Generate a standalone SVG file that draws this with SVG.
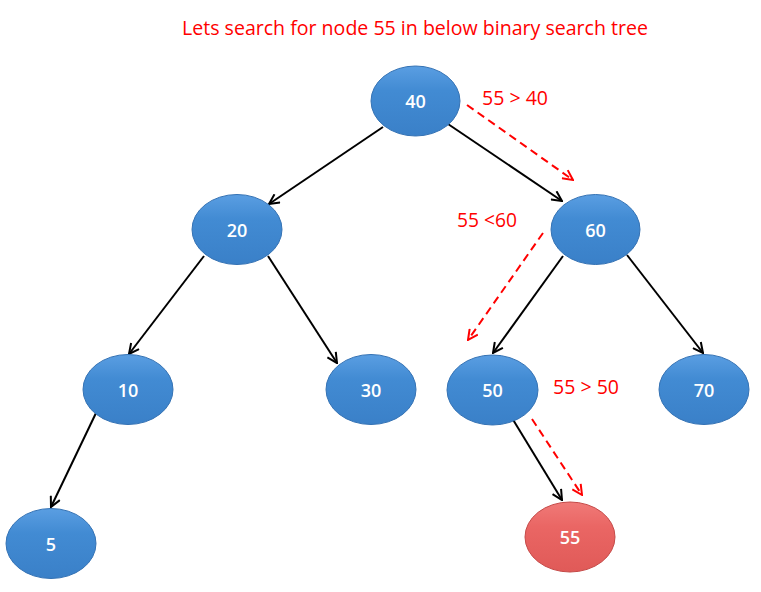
<svg xmlns="http://www.w3.org/2000/svg" width="761" height="592" viewBox="0 0 761 592">
<defs>
<linearGradient id="gb" x1="0" y1="0" x2="0" y2="1">
<stop offset="0" stop-color="#5a9ee2"/>
<stop offset="0.35" stop-color="#428bd3"/>
<stop offset="1" stop-color="#3a80c8"/>
</linearGradient>
<linearGradient id="gr" x1="0" y1="0" x2="0" y2="1">
<stop offset="0" stop-color="#f07a78"/>
<stop offset="0.35" stop-color="#ea6664"/>
<stop offset="1" stop-color="#e05a58"/>
</linearGradient>
<marker id="ab" viewBox="0 0 12 12" refX="11" refY="6" markerWidth="12" markerHeight="12" markerUnits="userSpaceOnUse" orient="auto">
<path d="M1,1 L11,6 L1,11" fill="none" stroke="#000" stroke-width="2"/>
</marker>
<marker id="ar" viewBox="0 0 12 12" refX="11" refY="6" markerWidth="12" markerHeight="12" markerUnits="userSpaceOnUse" orient="auto">
<path d="M1,1 L11,6 L1,11" fill="none" stroke="#ff0000" stroke-width="2"/>
</marker>
</defs>
<style>
.nb{fill:url(#gb);stroke:#3472b4;stroke-width:1}
.nr{fill:url(#gr);stroke:#c54a48;stroke-width:1}
.nt{font-family:"Open Sans",Lato,"Liberation Sans",sans-serif;font-size:18px;font-weight:600;fill:#fff;text-anchor:middle}
.lbl{font-family:"Open Sans",Lato,"Liberation Sans",sans-serif;font-size:20px;fill:#ff0000}
.e{stroke:#000;stroke-width:2;fill:none;marker-end:url(#ab)}
.s{stroke:#ff0000;stroke-width:2;fill:none;stroke-dasharray:8 5;marker-end:url(#ar)}
</style>
<rect width="761" height="592" fill="#fff"/>
<text class="lbl" x="182" y="35" textLength="466" lengthAdjust="spacingAndGlyphs">Lets search for node 55 in below binary search tree</text>
<g id="connectors">
<line class="e" x1="383" y1="127" x2="269" y2="204"/>
<line class="e" x1="448" y1="124" x2="562" y2="201"/>
<line class="e" x1="204" y1="256" x2="129" y2="354"/>
<line class="e" x1="268" y1="256" x2="337" y2="363"/>
<line class="e" x1="96" y1="413" x2="51" y2="507"/>
<line class="e" x1="563" y1="256" x2="493" y2="353"/>
<line class="e" x1="627" y1="255" x2="703" y2="353"/>
<line class="e" x1="512" y1="418" x2="562" y2="500"/>
<line class="s" x1="467" y1="105" x2="573" y2="180"/>
<line class="s" x1="543" y1="233" x2="468" y2="340"/>
<line class="s" x1="532" y1="419" x2="582" y2="495"/>
</g>
<g id="labels">
<text class="lbl" x="482" y="105" textLength="66" lengthAdjust="spacingAndGlyphs">55 &gt; 40</text>
<text class="lbl" x="457" y="227" textLength="60" lengthAdjust="spacingAndGlyphs">55 &lt;60</text>
<text class="lbl" x="553" y="394" textLength="66" lengthAdjust="spacingAndGlyphs">55 &gt; 50</text>
</g>
<g id="n40"><ellipse class="nb" cx="415.5" cy="101" rx="44.5" ry="35"/><text class="nt" x="415.5" y="108">40</text></g>
<g id="n20"><ellipse class="nb" cx="237" cy="229.5" rx="45" ry="35"/><text class="nt" x="237" y="236.5">20</text></g>
<g id="n60"><ellipse class="nb" cx="595.5" cy="229.5" rx="44.5" ry="35"/><text class="nt" x="595.5" y="236.5">60</text></g>
<g id="n10"><ellipse class="nb" cx="128" cy="389.5" rx="45" ry="35"/><text class="nt" x="128" y="396.5">10</text></g>
<g id="n30"><ellipse class="nb" cx="371" cy="389.5" rx="45" ry="35"/><text class="nt" x="371" y="396.5">30</text></g>
<g id="n50"><ellipse class="nb" cx="492.5" cy="390" rx="45.5" ry="35"/><text class="nt" x="492.5" y="397">50</text></g>
<g id="n70"><ellipse class="nb" cx="704" cy="389.5" rx="45" ry="35"/><text class="nt" x="704" y="396.5">70</text></g>
<g id="n5"><ellipse class="nb" cx="51" cy="543.5" rx="45" ry="35"/><text class="nt" x="51" y="550.5">5</text></g>
<g id="n55"><ellipse class="nr" cx="570" cy="537" rx="45" ry="35"/><text class="nt" x="570" y="544">55</text></g>
</svg>
